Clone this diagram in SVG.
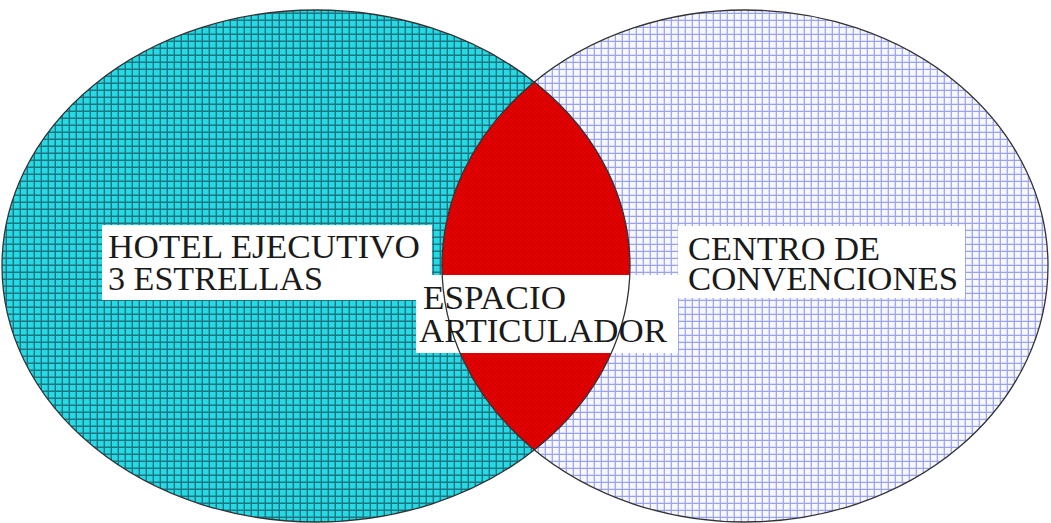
<svg xmlns="http://www.w3.org/2000/svg" width="1051" height="523" viewBox="0 0 1051 523">
<style>
.lbl{font-family:"Liberation Serif","Tinos","Times New Roman","Times","Noto Serif","DejaVu Serif","Nimbus Roman","FreeSerif",serif;fill:#1a1a1a}
.box{fill:#ffffff}
.outline{fill:none;stroke:#333333;stroke-width:1.3}
</style>
<defs>
<pattern id="teal" width="7" height="7" patternUnits="userSpaceOnUse">
<rect width="7" height="7" fill="#25DAE4"/>
<path d="M0 6.3H7M6.3 0V7" stroke="#1C7580" stroke-width="1.4"/>
</pattern>
<pattern id="lav" width="7" height="7" patternUnits="userSpaceOnUse">
<rect width="7" height="7" fill="#F6F7FF"/>
<path d="M0 6.3H7M6.3 0V7" stroke="#9AA2EA" stroke-width="1.2"/>
</pattern>
<pattern id="red" width="4" height="4" patternUnits="userSpaceOnUse">
<rect width="4" height="4" fill="#E20000"/>
<path d="M0 4L4 0" stroke="#C40000" stroke-width="0.8"/>
</pattern>
<clipPath id="leftClip">
<ellipse cx="316" cy="266" rx="314" ry="256"/>
</clipPath>
</defs>
<rect width="1051" height="523" fill="#ffffff"/>
<g id="hotel">
<ellipse cx="316" cy="266" rx="314" ry="256" fill="url(#teal)"/>
</g>
<g id="centro">
<ellipse cx="745" cy="266" rx="303" ry="256" fill="url(#lav)"/>
</g>
<g id="espacio">
<ellipse cx="745" cy="266" rx="303" ry="256" fill="url(#red)" clip-path="url(#leftClip)"/>
</g>
<g id="labels">
<rect class="box" x="102" y="225" width="330" height="75"/>
<rect class="box" x="678" y="226" width="287" height="72"/>
<rect class="box" x="416" y="275" width="262" height="78"/>
</g>
<g id="outlines">
<ellipse class="outline" cx="316" cy="266" rx="314" ry="256"/>
<ellipse class="outline" cx="745" cy="266" rx="303" ry="256"/>
</g>
<g id="texts">
<text class="lbl" font-size="33" x="108" y="258" textLength="312" lengthAdjust="spacingAndGlyphs">HOTEL EJECUTIVO</text>
<text class="lbl" font-size="33" x="108" y="290" textLength="215" lengthAdjust="spacingAndGlyphs">3 ESTRELLAS</text>
<text class="lbl" font-size="34.5" x="688" y="260" textLength="192" lengthAdjust="spacingAndGlyphs">CENTRO DE</text>
<text class="lbl" font-size="34.5" x="688" y="290" textLength="270" lengthAdjust="spacingAndGlyphs">CONVENCIONES</text>
<text class="lbl" font-size="34.5" x="423" y="309" textLength="143" lengthAdjust="spacingAndGlyphs">ESPACIO</text>
<text class="lbl" font-size="34.5" x="419" y="342" textLength="248" lengthAdjust="spacingAndGlyphs">ARTICULADOR</text>
</g>
</svg>
